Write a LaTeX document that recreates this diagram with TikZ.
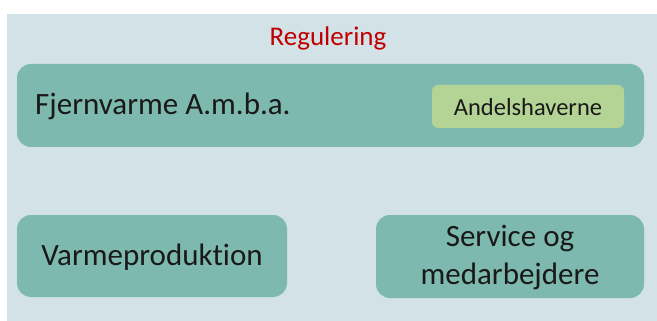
\documentclass[tikz,border=0pt]{standalone}
\usepackage{fontspec}
\setmainfont[Ligatures={NoCommon,NoDiscretionary}]{Carlito}
\begin{document}
\begin{tikzpicture}[x=1pt,y=-1pt,
  bg/.style={fill=panel,draw=none},
  unit/.style={fill=teal0,draw=none,rounded corners=14pt},
  member/.style={fill=leaf,draw=none,rounded corners=6pt},
  lbl/.style={inner sep=0pt,text=black!90,font=\fontsize{31}{38}\selectfont}]
\definecolor{panel}{HTML}{D2E2E6}
\definecolor{teal0}{HTML}{7DB9AF}
\definecolor{leaf}{HTML}{B3D495}
\definecolor{redtxt}{HTML}{C00000}
\useasboundingbox (0,0) rectangle (657,321);
% background panel
\fill[bg] (7,14) rectangle (657,321);
% boxes
\fill[unit] (17,64) rectangle (644,147);
\fill[member] (432,85) rectangle (624,128);
\fill[unit] (17,215) rectangle (287,297);
\fill[unit] (376,215) rectangle (644,298);
% labels
\node[inner sep=0pt,text=redtxt,font=\fontsize{27}{32}\selectfont] (reg) at (328,38) {Regulering};
\node[lbl,anchor=west] (fjv) at (35,106) {Fjernvarme A.m.b.a.};
\node[inner sep=0pt,text=black!90,font=\fontsize{24.5}{29}\selectfont] (andel) at (528,107) {Andelshaverne};
\node[lbl] (varme) at (152,257) {Varmeproduktion};
\node[lbl,align=center] (serv) at (510,257) {Service og\\medarbejdere};
\end{tikzpicture}
\end{document}
